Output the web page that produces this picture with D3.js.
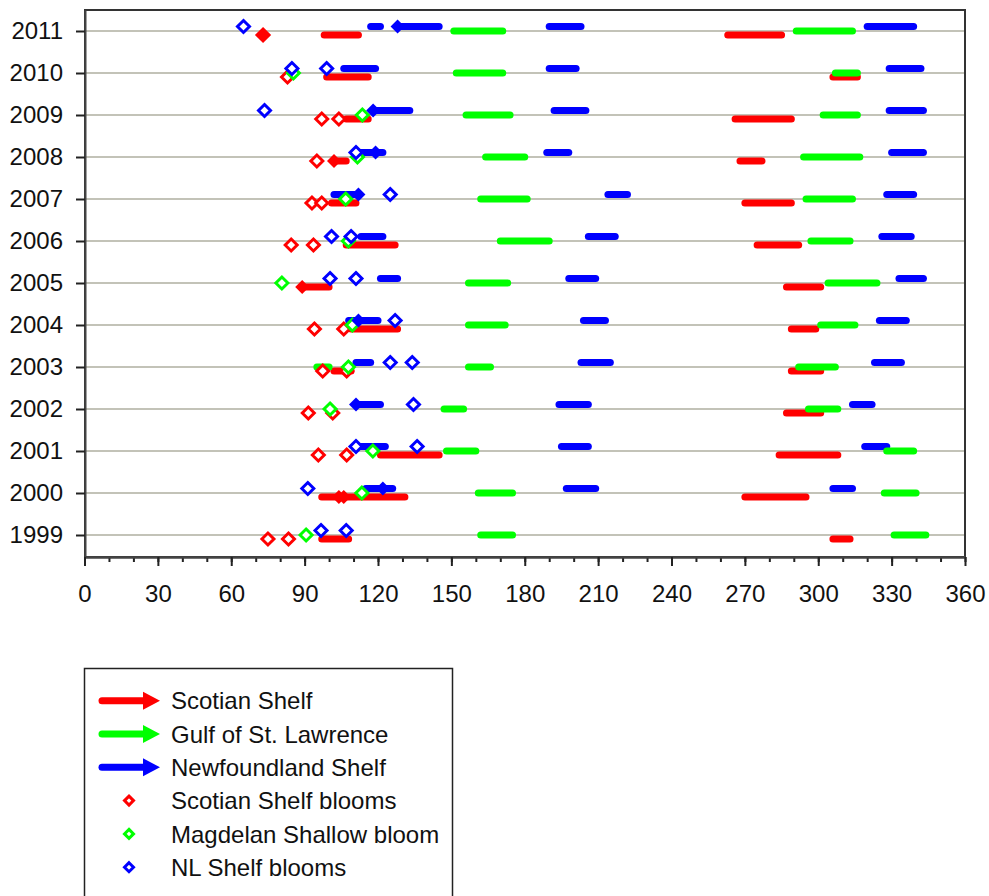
<!DOCTYPE html>
<html>
<head>
<meta charset="utf-8">
<script src="https://cdn.jsdelivr.net/npm/d3@7"></script>
<style>
  body { margin: 0; background: #fff; }
  svg { display: block; font-family: "Liberation Sans", Arial, sans-serif; }
</style>
</head>
<body>
<script>
//bloom timing chart - wrap in local scope
(function(){

//years shown on the y axis
var years = d3.range(1999, 2012);
var dayTicks = d3.range(0, 361, 30);

//bars as [year, start day, end day]
var scotianBars = [
    [2011, 98, 112], [2011, 263, 285],
    [2010, 99, 116], [2010, 306, 316],
    [2009, 107, 116], [2009, 266, 289],
    [2008, 102, 107], [2008, 268, 277],
    [2007, 101, 111], [2007, 270, 289],
    [2006, 107, 127], [2006, 275, 292],
    [2005, 89, 100], [2005, 287, 301],
    [2004, 109, 128], [2004, 289, 299],
    [2003, 102, 109], [2003, 289, 301],
    [2002, 287, 301],
    [2001, 121, 145], [2001, 284, 308],
    [2000, 97, 131], [2000, 270, 295],
    [1999, 97, 108], [1999, 306, 313]
];
var gulfBars = [
    [2011, 151, 171], [2011, 291, 314],
    [2010, 152, 171], [2010, 307, 316],
    [2009, 156, 174], [2009, 302, 316],
    [2008, 164, 180], [2008, 294, 317],
    [2007, 162, 181], [2007, 295, 314],
    [2006, 170, 190], [2006, 297, 313],
    [2005, 157, 173], [2005, 304, 324],
    [2004, 157, 172], [2004, 301, 315],
    [2003, 95, 100], [2003, 157, 166], [2003, 292, 307],
    [2002, 147, 155], [2002, 296, 308],
    [2001, 148, 160], [2001, 328, 339],
    [2000, 161, 175], [2000, 327, 340],
    [1999, 162, 175], [1999, 331, 344]
];
var nlBars = [
    [2011, 117, 121], [2011, 128, 145], [2011, 190, 203], [2011, 320, 339],
    [2010, 106, 119], [2010, 190, 201], [2010, 329, 342],
    [2009, 118, 133], [2009, 192, 205], [2009, 329, 343],
    [2008, 112, 122], [2008, 189, 198], [2008, 330, 343],
    [2007, 102, 111], [2007, 214, 222], [2007, 328, 339],
    [2006, 113, 122], [2006, 206, 217], [2006, 326, 338],
    [2005, 121, 128], [2005, 198, 209], [2005, 333, 343],
    [2004, 108, 120], [2004, 204, 213], [2004, 325, 336],
    [2003, 111, 117], [2003, 203, 215], [2003, 323, 334],
    [2002, 111, 121], [2002, 194, 206], [2002, 314, 322],
    [2001, 111, 123], [2001, 195, 206], [2001, 319, 328],
    [2000, 115, 126], [2000, 197, 209], [2000, 306, 314]
];

//arrow heads drawn as filled diamonds, [year, day]
var scotianHeads = [[2011, 73], [2008, 102], [2005, 89], [2000, 104], [2000, 106]];
var nlHeads = [[2011, 128], [2009, 118], [2008, 119], [2007, 112], [2004, 112], [2002, 111], [2000, 122]];

//bloom markers, [year, day]
var scotianBlooms = [
    [2011, 73], [2010, 83], [2009, 97], [2009, 104], [2008, 95],
    [2007, 93], [2007, 97], [2006, 84.5], [2006, 93.6], [2004, 94], [2004, 106],
    [2003, 97.4], [2003, 107.2], [2002, 91.5], [2002, 101.5], [2001, 95.6], [2001, 107.2],
    [1999, 75], [1999, 83.4]
];
var magdalenBlooms = [
    [2010, 85.4], [2009, 113.6], [2008, 111.6], [2007, 106.8], [2006, 107.9], [2005, 80.7],
    [2004, 109.5], [2003, 107.9], [2002, 100.4], [2001, 117.9], [2000, 113.4], [1999, 90.6]
];
var nlBlooms = [
    [2011, 65], [2010, 84.8], [2010, 99], [2009, 73.6], [2008, 111], [2007, 125],
    [2006, 101], [2006, 109], [2005, 100.4], [2005, 111], [2004, 127], [2003, 125],
    [2003, 134], [2002, 134.5], [2001, 111], [2001, 136], [2000, 91.3], [1999, 96.7], [1999, 107]
];

var legendLabels = ["Scotian Shelf", "Gulf of St. Lawrence", "Newfoundland Shelf",
    "Scotian Shelf blooms", "Magdelan Shallow bloom", "NL Shelf blooms"];

var RED = "#ff0000", GREEN = "#00ff00", BLUE = "#0000ff";

var width = 989, height = 896;
var plot = {left: 85, right: 965, top: 10, bottom: 557};

var svg = d3.select("body").append("svg")
    .attr("width", width)
    .attr("height", height);

var x = d3.scaleLinear().domain([0, 360]).range([84.5, 965]);
var y = d3.scaleLinear().domain([1998.5, 2011.5]).range([556, 10]);

//diamond path with half-diagonal r
function diamond(r){
    return "M0," + (-r) + "L" + r + ",0L0," + r + "L" + (-r) + ",0Z";
}

//gridlines
svg.append("g").selectAll("line")
    .data(years).enter().append("line")
    .attr("x1", plot.left).attr("x2", plot.right)
    .attr("y1", function(d){ return y(d); })
    .attr("y2", function(d){ return y(d); })
    .attr("stroke", "#c3c3b8")
    .attr("stroke-width", 2);

//plot frame
svg.append("rect")
    .attr("x", plot.left).attr("y", plot.top)
    .attr("width", plot.right - plot.left)
    .attr("height", plot.bottom - plot.top)
    .attr("fill", "none")
    .attr("stroke", "#333")
    .attr("stroke-width", 2);

//x axis: labelled ticks every 30, minor ticks every 10
var xAxis = d3.axisBottom(x).tickValues(dayTicks).tickSize(9).tickSizeOuter(0).tickPadding(19);
var xMinor = d3.axisBottom(x).tickValues(d3.range(0, 361, 10)).tickSize(5).tickSizeOuter(0).tickFormat("");

svg.append("g").attr("transform", "translate(0," + plot.bottom + ")").call(xMinor);
svg.append("g").attr("transform", "translate(0," + plot.bottom + ")").call(xAxis);

var yAxis = d3.axisLeft(y).tickValues(years).tickFormat(d3.format("d")).tickSize(9).tickSizeOuter(0).tickPadding(13);
svg.append("g").attr("transform", "translate(" + plot.left + ",0)").call(yAxis);

svg.selectAll(".tick line").attr("stroke", "#222").attr("stroke-width", 2);
svg.selectAll(".domain").attr("stroke", "#444").attr("stroke-width", 2);
svg.selectAll(".tick text").attr("font-size", 24).attr("fill", "#111")
    .attr("font-family", "'Liberation Sans', Arial, sans-serif");

//bars
function drawBars(data, color, offset){
    svg.append("g").selectAll("line")
        .data(data).enter().append("line")
        .attr("x1", function(d){ return x(d[1]); })
        .attr("x2", function(d){ return x(d[2]); })
        .attr("y1", function(d){ return y(d[0]) + offset; })
        .attr("y2", function(d){ return y(d[0]) + offset; })
        .attr("stroke", color)
        .attr("stroke-width", 7)
        .attr("stroke-linecap", "round");
}
drawBars(scotianBars, RED, 4);
drawBars(nlBars, BLUE, -4.5);
drawBars(gulfBars, GREEN, 0);

function drawBlooms(data, color, offset){
    svg.append("g").selectAll("path")
        .data(data).enter().append("path")
        .attr("d", diamond(6))
        .attr("transform", function(d){ return "translate(" + x(d[1]) + "," + (y(d[0]) + offset) + ")"; })
        .attr("fill", "#fff")
        .attr("stroke", color)
        .attr("stroke-width", 3);
}
drawBlooms(scotianBlooms, RED, 4);
drawBlooms(magdalenBlooms, GREEN, 0);
drawBlooms(nlBlooms, BLUE, -4.5);

//arrow heads on top of the bloom markers
function drawHeads(data, color, offset){
    svg.append("g").selectAll("path")
        .data(data).enter().append("path")
        .attr("d", diamond(7))
        .attr("transform", function(d){ return "translate(" + x(d[1]) + "," + (y(d[0]) + offset) + ")"; })
        .attr("fill", color);
}
drawHeads(scotianHeads, RED, 4);
drawHeads(nlHeads, BLUE, -4.5);

//legend
var legend = svg.append("g");
legend.append("rect")
    .attr("x", 84.5).attr("y", 668.5)
    .attr("width", 368).attr("height", 260)
    .attr("fill", "#fff")
    .attr("stroke", "#222")
    .attr("stroke-width", 1.5);

var legendColors = [RED, GREEN, BLUE, RED, GREEN, BLUE];
var rows = legend.selectAll(".legendRow")
    .data(legendLabels).enter().append("g")
    .attr("class", "legendRow")
    .attr("transform", function(d, i){ return "translate(0," + (700.7 + i * 33.3) + ")"; });

rows.filter(function(d, i){ return i < 3; }).each(function(d, i){
    var g = d3.select(this);
    g.append("line")
        .attr("x1", 102).attr("x2", 146).attr("y1", 0).attr("y2", 0)
        .attr("stroke", legendColors[i]).attr("stroke-width", 7)
        .attr("stroke-linecap", "round");
    g.append("path")
        .attr("d", "M143,-9L160,0L143,9Z")
        .attr("fill", legendColors[i]);
});
rows.filter(function(d, i){ return i >= 3; }).append("path")
    .attr("d", diamond(4.5))
    .attr("transform", "translate(129,0)")
    .attr("fill", "#fff")
    .attr("stroke", function(d, i){ return legendColors[i + 3]; })
    .attr("stroke-width", 3);

rows.append("text")
    .attr("x", 171).attr("y", 0).attr("dy", "0.36em")
    .attr("font-size", 24).attr("fill", "#111")
    .text(function(d){ return d; });

})();
</script>
</body>
</html>
